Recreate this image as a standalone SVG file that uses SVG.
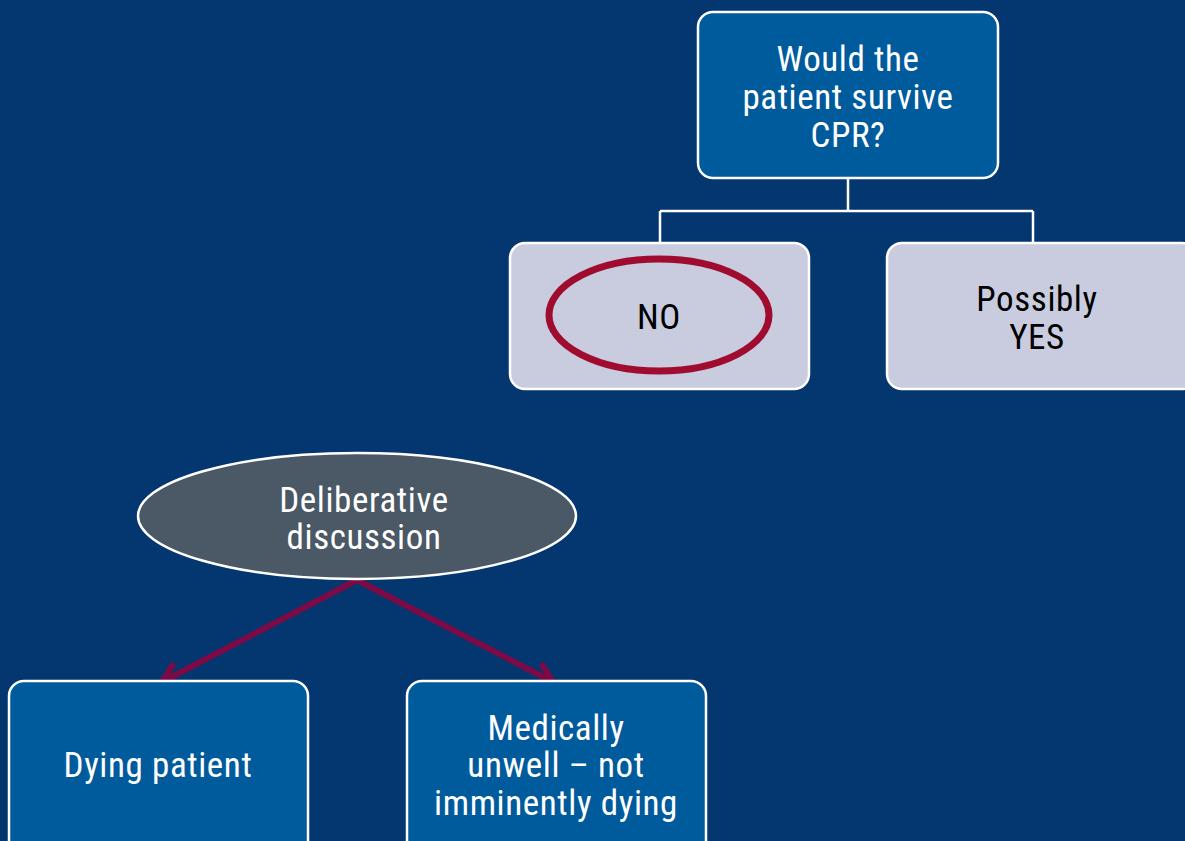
<svg xmlns="http://www.w3.org/2000/svg" width="1185" height="841" viewBox="0 0 1185 841">
<defs>
<style>
.t{font-family:"Liberation Sans Narrow","Roboto Condensed","Liberation Sans",sans-serif;font-size:35px;letter-spacing:0.6px;text-anchor:middle}
.w{fill:#ffffff}
.k{fill:#000000}
.blue{fill:#005B9C;stroke:#ffffff;stroke-width:2.5}
.light{fill:#C9CCDF;stroke:#ffffff;stroke-width:2.5}
.conn{fill:none;stroke:#ffffff;stroke-width:2.5}
.arr{fill:none;stroke:#7B0A47;stroke-width:6}
</style>
<marker id="ah" viewBox="0 0 26 26" refX="22" refY="13" markerWidth="26" markerHeight="26" markerUnits="userSpaceOnUse" orient="auto">
<path d="M3,2 L22,13 L3,24" fill="none" stroke="#7B0A47" stroke-width="6"/>
</marker>
</defs>
<rect width="1185" height="841" fill="#04366F"/>
<g id="connectors">
<path class="conn" d="M848,178 V211 M660,211 H1033 M660,211 V243 M1033,211 V243"/>
<path class="arr" d="M357,580 L162,682" marker-end="url(#ah)"/>
<path class="arr" d="M357,580 L553,682" marker-end="url(#ah)"/>
</g>
<g id="q">
<rect class="blue" x="698" y="12" width="300" height="166" rx="15"/>
<text class="t w" x="848" y="71">Would the</text>
<text class="t w" x="848" y="109">patient survive</text>
<text class="t w" x="848" y="147">CPR?</text>
</g>
<g id="no">
<rect class="light" x="510" y="243" width="299" height="146" rx="15"/>
<ellipse cx="659" cy="315" rx="110" ry="56" fill="none" stroke="#A00C30" stroke-width="7"/>
<text class="t k" x="659" y="329">NO</text>
</g>
<g id="yes">
<rect class="light" x="887" y="243" width="310" height="146" rx="15"/>
<text class="t k" x="1037" y="311">Possibly</text>
<text class="t k" x="1037" y="349">YES</text>
</g>
<g id="delib">
<ellipse cx="357" cy="516" rx="219" ry="63" fill="#4B5865" stroke="#ffffff" stroke-width="2.5"/>
<text class="t w" x="364" y="512">Deliberative</text>
<text class="t w" x="364" y="549">discussion</text>
</g>
<g id="dying">
<rect class="blue" x="9" y="681" width="299" height="180" rx="15"/>
<text class="t w" x="158" y="777">Dying patient</text>
</g>
<g id="unwell">
<rect class="blue" x="407" y="681" width="299" height="180" rx="15"/>
<text class="t w" x="556" y="740">Medically</text>
<text class="t w" x="556" y="777">unwell – not</text>
<text class="t w" x="556" y="815">imminently dying</text>
</g>
</svg>
